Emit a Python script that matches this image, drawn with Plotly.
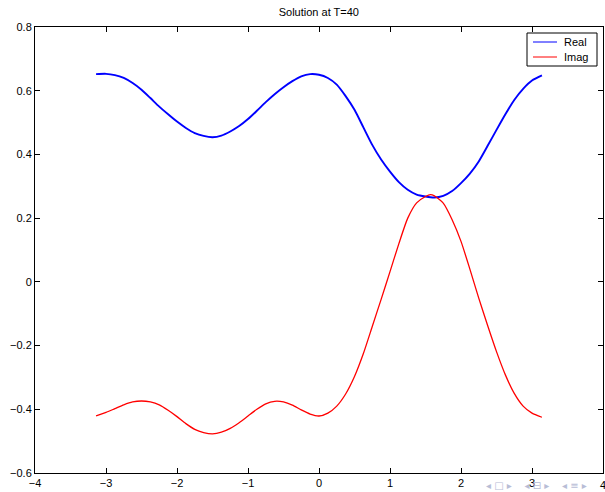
import plotly.graph_objects as go

x_real = [-3.14, -3.0, -2.875, -2.75, -2.625, -2.5, -2.375, -2.25, -2.125, -2.0, -1.875, -1.75, -1.625, -1.5,
          -1.375, -1.25, -1.125, -1.0, -0.875, -0.75, -0.625, -0.5, -0.375, -0.25, -0.125, 0.0,
          0.125, 0.25, 0.375, 0.5, 0.625, 0.75, 0.875, 1.0, 1.125, 1.25, 1.375, 1.5, 1.625, 1.75,
          1.875, 2.0, 2.125, 2.25, 2.375, 2.5, 2.625, 2.75, 2.875, 3.0, 3.14]
real_vals = [0.652, 0.653, 0.649, 0.640, 0.624, 0.603, 0.577, 0.550, 0.526, 0.503, 0.483, 0.467, 0.458, 0.454,
             0.459, 0.472, 0.489, 0.511, 0.537, 0.564, 0.589, 0.611, 0.630, 0.645, 0.652, 0.650,
             0.640, 0.619, 0.583, 0.540, 0.485, 0.430, 0.384, 0.346, 0.313, 0.289, 0.274, 0.268, 0.265, 0.270,
             0.285, 0.310, 0.340, 0.378, 0.427, 0.477, 0.526, 0.571, 0.606, 0.632, 0.648]

x_imag = [-3.14, -3.0, -2.875, -2.75, -2.625, -2.5, -2.375, -2.25, -2.125, -2.0, -1.875, -1.75, -1.625, -1.5,
          -1.375, -1.25, -1.125, -1.0, -0.875, -0.75, -0.625, -0.5, -0.375, -0.25, -0.125, 0.0,
          0.125, 0.25, 0.375, 0.5, 0.625, 0.75, 0.875, 1.0, 1.125, 1.25, 1.375, 1.5, 1.57, 1.625, 1.75,
          1.875, 2.0, 2.125, 2.25, 2.375, 2.5, 2.625, 2.75, 2.875, 3.0, 3.14]
imag_vals = [-0.421, -0.410, -0.398, -0.386, -0.377, -0.374, -0.377, -0.386, -0.403, -0.423, -0.445, -0.463, -0.473, -0.477,
             -0.472, -0.460, -0.442, -0.421, -0.400, -0.383, -0.375, -0.377, -0.387, -0.402, -0.415, -0.421,
             -0.412, -0.390, -0.352, -0.297, -0.225, -0.140, -0.055, 0.032, 0.120, 0.200, 0.248, 0.268, 0.274, 0.270, 0.247,
             0.195, 0.127, 0.040, -0.051, -0.137, -0.219, -0.292, -0.350, -0.390, -0.412, -0.425]

x_ticks = [-4, -3, -2, -1, 0, 1, 2, 3]
x_edge_label = 4
y_ticks = [-0.6, -0.4, -0.2, 0, 0.2, 0.4, 0.6, 0.8]
title_text = "Solution at T=40"
legend_names = ["Real", "Imag"]
colors = ["#0000ff", "#ff0000"]

FONT = "Liberation Sans, Arial, sans-serif"

fig = go.Figure()
fig.add_trace(go.Scatter(x=x_real, y=real_vals, mode="lines", name=legend_names[0], showlegend=False,
                         line=dict(color=colors[0], width=1.9, shape="spline", smoothing=0.6)))
fig.add_trace(go.Scatter(x=x_imag, y=imag_vals, mode="lines", name=legend_names[1], showlegend=False,
                         line=dict(color=colors[1], width=1.3, shape="spline", smoothing=0.6)))

axis_common = dict(showgrid=False, zeroline=False, showline=True, linecolor="black", linewidth=1,
                   mirror="ticks", ticks="inside", ticklen=5, tickcolor="black",
                   tickfont=dict(family=FONT, size=11, color="black"))

fig.update_layout(
    width=605, height=492,
    margin=dict(l=35, r=2, t=27, b=19),
    paper_bgcolor="white", plot_bgcolor="white",
    title=dict(text=title_text, x=0.527, xanchor="center", y=0.975, yanchor="middle",
               font=dict(family=FONT, size=11, color="black")),
    xaxis=dict(range=[-4, 4], tickvals=x_ticks + [x_edge_label],
               ticktext=["−4", "−3", "−2", "−1", "0", "1", "2", "3", ""], **axis_common),
    yaxis=dict(range=[-0.6, 0.8], tickvals=y_ticks, **axis_common),
    showlegend=False,
)

# edge tick label "4" (plotly drops labels that spill over the figure edge)
fig.add_annotation(text=str(x_edge_label), xref="x", yref="paper", x=x_edge_label, y=0, yshift=-4,
                   xanchor="center", yanchor="top", showarrow=False,
                   font=dict(family=FONT, size=11, color="black"))

# legend box drawn in paper coordinates
def px2paper(px, py):
    return (px - 35) / 568.0, (473 - py) / 446.0

bx0, by0 = px2paper(527, 66)
bx1, by1 = px2paper(597, 33)
fig.add_shape(type="rect", xref="paper", yref="paper", x0=bx0, y0=by0, x1=bx1, y1=by1,
              line=dict(color="black", width=1), fillcolor="white", layer="above")
for i, (name, col) in enumerate(zip(legend_names, colors)):
    yy = 42 + i * 15
    lx0, ly = px2paper(533, yy)
    lx1, _ = px2paper(557, yy)
    fig.add_shape(type="line", xref="paper", yref="paper", x0=lx0, y0=ly, x1=lx1, y1=ly,
                  line=dict(color=col, width=1), layer="above")
    tx, _ = px2paper(562, yy)
    fig.add_annotation(text=name, xref="paper", yref="paper", x=tx, y=ly, xanchor="left", yanchor="middle",
                       showarrow=False, font=dict(family=FONT, size=11, color="black"))

# beamer navigation symbols
fig.add_annotation(text="◂ □ ▸    ◂ ⊟ ▸    ◂ ≡ ▸", xref="paper", yref="paper", x=0.975, y=-0.012,
                   xanchor="right", yanchor="top", showarrow=False,
                   font=dict(family="DejaVu Sans", size=10, color="#b8bdd6"))

fig.write_html("out.html")
